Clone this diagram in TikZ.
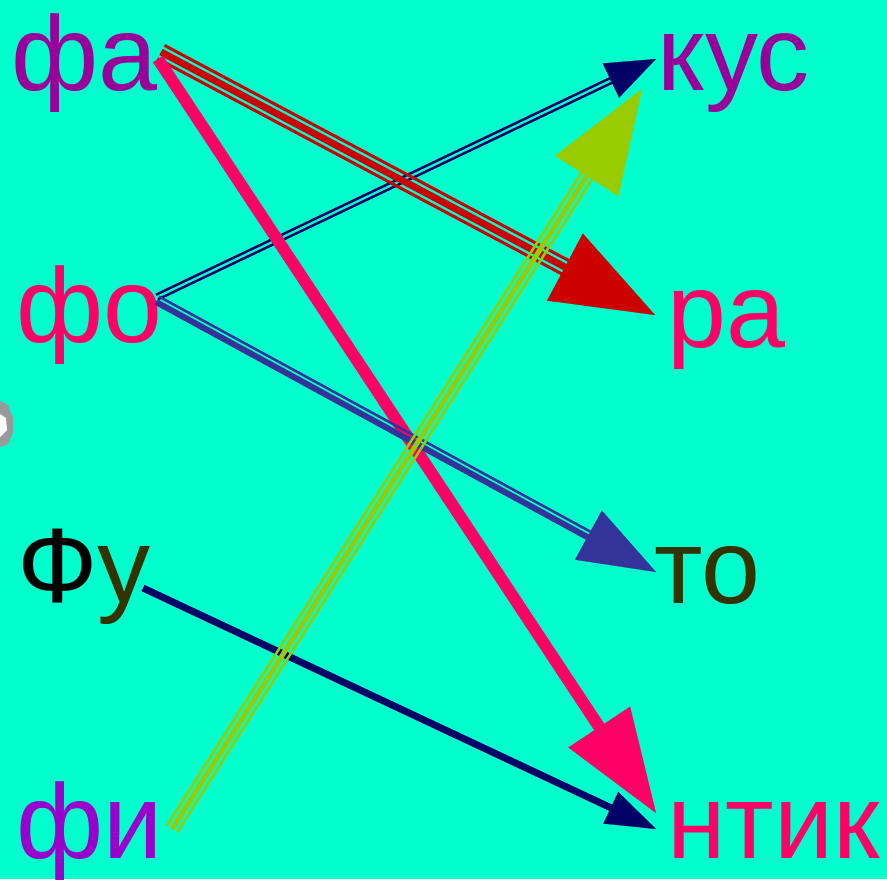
\documentclass[tikz,border=0pt]{standalone}
\usepackage{fontspec}
\setmainfont{Liberation Sans}
\usetikzlibrary{arrows.meta,calc}
\definecolor{fxBg}{HTML}{00FFCC}
\definecolor{fxRed}{HTML}{CC0000}
\definecolor{fxNavy}{HTML}{000066}
\definecolor{fxBlue}{HTML}{333399}
\definecolor{fxPink}{HTML}{FF0066}
\definecolor{fxLime}{HTML}{99CC00}
\definecolor{fxPurple}{HTML}{990099}
\definecolor{fxViolet}{HTML}{9900CC}
\definecolor{fxOlive}{HTML}{333300}
\tikzset{
  word/.style={anchor=base west, inner sep=0pt, font=\fontsize{53}{60}\selectfont},
  shaft/.style={draw=#1, line cap=butt},
  tipline/.style={draw=#1, line width=0.1pt}
}

\begin{document}
\begin{tikzpicture}[x=0.5pt, y=-0.5pt]
  \useasboundingbox (0,0) rectangle (887,879);
  \fill[fxBg] (0,0) rectangle (887,879);
  % small grey blob cut by the left edge
  \fill[black!40] (0,401) -- (8,405) -- (13,418) -- (13,433) -- (8,444) -- (0,447) -- cycle;
  \fill[white] (0,414) -- (6,418) -- (7,430) -- (0,437) -- cycle;

  % words
  \node[word, text=fxPurple] (fa) at (11,90) {фа};
  \node[word, text=fxPurple] (kus) at (657,90) {кус};
  \node[word, text=fxPink] (fo) at (16,342) {фо};
  \node[word, text=fxPink] (ra) at (667,347) {ра};
  \node[word] (fu) at (17,602) {Ф\textcolor{fxOlive}{у}};
  \node[word, text=fxOlive] (to) at (654,603) {то};
  \node[word, text=fxViolet] (fi) at (16,858) {фи};
  \node[word, text=fxPink] (ntik) at (667,858) {нтик};

  % connector ends
  \coordinate (fa1) at (161,52);
  \coordinate (fa2) at (158,59);
  \coordinate (fo1) at (157,297);
  \coordinate (fo2) at (157,300);
  \coordinate (fu1) at (143,588);
  \coordinate (fi1) at (172,829);
  \coordinate (kus1) at (656,59);
  \coordinate (kus2) at (642,89);
  \coordinate (ra1) at (655,315);
  \coordinate (to1) at (656,572);
  \coordinate (ntik1) at (656,813);
  \coordinate (ntik2) at (656,829);

  % fo -> kus, twin navy line
  \foreach \d in {1.25pt,-1.25pt}
    \draw[shaft=fxNavy, line width=1.25pt, shorten >=12pt] ($(fo1)!\d!90:(kus1)$) -- ($(kus1)!\d!-90:(fo1)$);
  \draw[tipline=fxNavy, -{Triangle[length=25pt,width=19pt]}] ($(kus1)!26pt!(fo1)$) -- (kus1);

  % fa -> ra, triple red line
  \draw[shaft=fxRed, line width=3.5pt, shorten >=30pt] (fa1) -- (ra1);
  \foreach \d in {3.75pt,-3.75pt}
    \draw[shaft=fxRed, line width=1.5pt, shorten >=30pt] ($(fa1)!\d!90:(ra1)$) -- ($(ra1)!\d!-90:(fa1)$);
  \draw[tipline=fxRed, -{Triangle[length=51pt,width=38pt]}] ($(ra1)!52pt!(fa1)$) -- (ra1);

  % fa -> ntik, thick pink line
  \draw[shaft=fxPink, line width=6pt, shorten >=25pt] (fa2) -- (ntik1);
  \draw[tipline=fxPink, -{Triangle[length=51.5pt,width=37pt]}] ($(ntik1)!52pt!(fa2)$) -- (ntik1);

  % fo -> to, thin and thick blue line
  \draw[shaft=fxBlue, line width=3pt, shorten >=20pt] ($(fo2)!-1.1pt!90:(to1)$) -- ($(to1)!-1.1pt!-90:(fo2)$);
  \draw[shaft=fxBlue, line width=1.25pt, shorten >=20pt] ($(fo2)!2pt!90:(to1)$) -- ($(to1)!2pt!-90:(fo2)$);
  \draw[tipline=fxBlue, -{Triangle[length=38.5pt,width=28pt]}] ($(to1)!39pt!(fo2)$) -- (to1);

  % fu -> ntik, navy line
  \draw[shaft=fxNavy, line width=3.5pt, shorten >=12pt] (fu1) -- (ntik2);
  \draw[tipline=fxNavy, -{Triangle[length=25pt,width=17.5pt]}] ($(ntik2)!26pt!(fu1)$) -- (ntik2);

  % fi -> kus, triple lime line
  \draw[shaft=fxLime, line width=2.5pt, shorten >=30pt] (fi1) -- (kus2);
  \foreach \d in {3.1pt,-3.1pt}
    \draw[shaft=fxLime, line width=1.25pt, shorten >=30pt] ($(fi1)!\d!90:(kus2)$) -- ($(kus2)!\d!-90:(fi1)$);
  \draw[tipline=fxLime, -{Triangle[length=51.5pt,width=37.5pt]}] ($(kus2)!52pt!(fi1)$) -- (kus2);
\end{tikzpicture}
\end{document}
